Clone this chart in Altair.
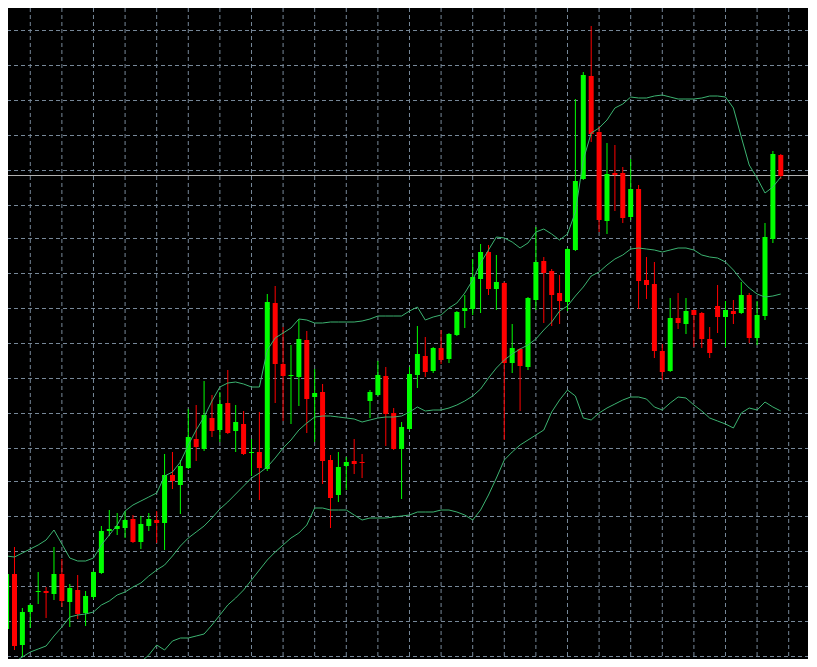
import altair as alt
import pandas as pd

# ---- candle data (price points) ----
candle_index = list(range(99))

open_ = [1371, 1426, 1355, 1388, 1408, 1409, 1406, 1426, 1398, 1410,
         1387, 1403, 1427, 1469, 1471, 1472, 1481, 1458, 1474, 1480,
         1477, 1525, 1515, 1532, 1561, 1551, 1582, 1570, 1597, 1569,
         1576, 1547, 1548, 1531, 1697, 1636, 1624, 1623, 1660, 1603,
         1608, 1540, 1505, 1534, 1539, 1538, 1599, 1605, 1624, 1587,
         1551, 1571, 1625, 1644, 1629, 1652, 1641, 1665, 1689, 1691,
         1721, 1748, 1711, 1717, 1637, 1651, 1633, 1700, 1739, 1729,
         1707, 1698, 1750, 1821, 1924, 1868, 1779, 1827, 1827, 1783,
         1811, 1720, 1716, 1649, 1629, 1682, 1676, 1690, 1687, 1661,
         1694, 1683, 1689, 1687, 1705, 1662, 1684, 1761, 1845]

high = [1431, 1453, 1392, 1396, 1428, 1413, 1453, 1441, 1416, 1425,
        1409, 1429, 1474, 1490, 1487, 1489, 1485, 1484, 1487, 1489,
        1546, 1548, 1540, 1591, 1595, 1619, 1605, 1608, 1630, 1595,
        1589, 1561, 1588, 1706, 1714, 1673, 1655, 1681, 1669, 1631,
        1616, 1545, 1548, 1543, 1561, 1546, 1610, 1639, 1633, 1592,
        1578, 1633, 1674, 1663, 1653, 1670, 1667, 1689, 1705, 1741,
        1756, 1755, 1745, 1718, 1676, 1652, 1703, 1773, 1743, 1731,
        1725, 1752, 1901, 1928, 1974, 1874, 1857, 1855, 1833, 1841,
        1815, 1743, 1738, 1656, 1702, 1707, 1702, 1690, 1688, 1673,
        1715, 1699, 1700, 1718, 1707, 1699, 1777, 1849, 1846]

low = [1367, 1350, 1343, 1372, 1396, 1382, 1400, 1393, 1373, 1381,
       1374, 1401, 1426, 1464, 1465, 1462, 1457, 1451, 1469, 1457,
       1450, 1511, 1486, 1531, 1539, 1549, 1563, 1558, 1566, 1548,
       1545, 1524, 1500, 1529, 1597, 1579, 1576, 1594, 1567, 1558,
       1516, 1472, 1498, 1510, 1526, 1522, 1582, 1604, 1554, 1550,
       1501, 1570, 1612, 1623, 1627, 1636, 1637, 1664, 1672, 1685,
       1687, 1705, 1690, 1560, 1627, 1589, 1630, 1690, 1677, 1674,
       1676, 1689, 1749, 1820, 1858, 1768, 1766, 1789, 1777, 1780,
       1691, 1701, 1642, 1620, 1628, 1671, 1666, 1653, 1652, 1642,
       1667, 1653, 1676, 1686, 1657, 1655, 1680, 1757, 1821]

close = [1426, 1354, 1388, 1395, 1409, 1407, 1426, 1399, 1412, 1386,
         1404, 1428, 1469, 1471, 1474, 1480, 1458, 1476, 1481, 1477,
         1525, 1519, 1534, 1563, 1553, 1585, 1569, 1596, 1567, 1578,
         1546, 1548, 1532, 1698, 1636, 1624, 1625, 1661, 1601, 1607,
         1539, 1502, 1533, 1538, 1536, 1537, 1608, 1625, 1586, 1551,
         1573, 1626, 1646, 1628, 1652, 1640, 1666, 1688, 1692, 1723,
         1748, 1711, 1718, 1637, 1652, 1634, 1702, 1738, 1727, 1705,
         1699, 1751, 1819, 1925, 1866, 1780, 1826, 1825, 1782, 1811,
         1719, 1715, 1649, 1628, 1682, 1677, 1689, 1685, 1661, 1647,
         1683, 1690, 1686, 1705, 1662, 1685, 1763, 1846, 1824]

# ---- Bollinger bands ----
upper_band = [1444, 1443, 1447, 1451, 1455, 1460, 1470, 1456, 1442, 1439,
              1439, 1442, 1455, 1465, 1475, 1489, 1495, 1499, 1503, 1507,
              1524, 1528, 1538, 1555, 1570, 1583, 1599, 1613, 1617, 1618,
              1616, 1613, 1613, 1650, 1662, 1667, 1672, 1681, 1680, 1677,
              1677, 1678, 1678, 1678, 1678, 1679, 1681, 1684, 1684, 1684,
              1684, 1689, 1693, 1680, 1683, 1685, 1692, 1697, 1707, 1720,
              1737, 1750, 1763, 1762, 1758, 1752, 1757, 1768, 1771, 1766,
              1760, 1766, 1788, 1840, 1867, 1872, 1880, 1892, 1896, 1903,
              1902, 1902, 1904, 1905, 1903, 1901, 1901, 1901, 1902, 1904,
              1904, 1903, 1892, 1863, 1835, 1822, 1807, 1813, 1823]

middle_band = [1333, 1338, 1343, 1348, 1351, 1354, 1364, 1373, 1383, 1385,
               1386, 1388, 1395, 1399, 1405, 1408, 1413, 1417, 1424, 1430,
               1435, 1444, 1454, 1462, 1468, 1474, 1482, 1491, 1498, 1506,
               1514, 1522, 1527, 1533, 1542, 1552, 1560, 1570, 1577, 1583,
               1584, 1584, 1583, 1582, 1581, 1578, 1580, 1582, 1583, 1583,
               1584, 1588, 1593, 1589, 1590, 1590, 1592, 1595, 1599, 1604,
               1611, 1622, 1632, 1640, 1646, 1651, 1655, 1661, 1670, 1678,
               1689, 1694, 1704, 1713, 1724, 1728, 1735, 1741, 1745, 1751,
               1752, 1751, 1750, 1748, 1750, 1752, 1752, 1750, 1745, 1743,
               1742, 1738, 1730, 1720, 1712, 1706, 1703, 1704, 1706]

lower_band = [None] * 16 + [
    1328, 1338, 1345, 1355,
    1350, 1359, 1362, 1362, 1364, 1366, 1375, 1385, 1395, 1402,
    1410, 1420, 1430, 1440, 1448, 1455, 1462, 1467, 1475, 1492,
    1492, 1490, 1490, 1490, 1485, 1480, 1482, 1482, 1482, 1483,
    1484, 1485, 1488, 1488, 1488, 1490, 1490, 1488, 1485, 1480,
    1490, 1505, 1522, 1540, 1548, 1555, 1560, 1565, 1570, 1588,
    1600, 1610, 1604, 1582, 1580, 1587, 1592, 1596, 1600, 1603,
    1603, 1601, 1593, 1590, 1597, 1603, 1602, 1595, 1589, 1582,
    1579, 1576, 1572, 1587, 1592, 1590, 1598, 1593, 1589]

# ---- grid / price line ----
grid_prices = [1969.5, 1934.5, 1899.5, 1864.5, 1829.5, 1794.5, 1761.5,
               1726.5, 1691.5, 1656.5, 1621.5, 1586.5, 1551.5, 1518.5,
               1483.5, 1448.5, 1413.5, 1378.5, 1343.5]
grid_candles = [3, 7, 11, 15, 19, 23, 27, 31, 35, 39, 43, 47, 51, 55, 59,
                63, 67, 71, 75, 79, 83, 87, 91, 95, 99]
bid_price = 1824.5

W, H = 801, 651
xs = alt.Scale(domain=[0.8125, 100.9375], nice=False, zero=False)
ys = alt.Scale(domain=[1341, 1992], nice=False, zero=False)

candles = pd.DataFrame({"i": candle_index, "open": open_, "high": high,
                        "low": low, "close": close})
candles["dir"] = ["up" if c > o else "down" for o, c in zip(open_, close)]

bands = pd.concat([
    pd.DataFrame({"i": candle_index, "v": upper_band, "band": "upper"}),
    pd.DataFrame({"i": candle_index, "v": middle_band, "band": "middle"}),
    pd.DataFrame({"i": candle_index, "v": lower_band, "band": "lower"}),
]).dropna()

col = alt.Color("dir:N", scale=alt.Scale(domain=["up", "down"],
                                         range=["#00ff00", "#ff0000"]),
                legend=None)

vgrid = alt.Chart(pd.DataFrame({"g": grid_candles})).mark_rule(
    color="#778899", strokeWidth=1, strokeDash=[4, 3]
).encode(x=alt.X("g:Q", scale=xs, axis=None))

hgrid = alt.Chart(pd.DataFrame({"p": grid_prices})).mark_rule(
    color="#778899", strokeWidth=1, strokeDash=[4, 3]
).encode(y=alt.Y("p:Q", scale=ys, axis=None))

bid = alt.Chart(pd.DataFrame({"p": [bid_price]})).mark_rule(
    color="#b0b0b0", strokeWidth=1
).encode(y=alt.Y("p:Q", scale=ys, axis=None))

wicks = alt.Chart(candles).mark_rule(strokeWidth=1, clip=True).encode(
    x=alt.X("i:Q", scale=xs, axis=None),
    y=alt.Y("low:Q", scale=ys, axis=None),
    y2="high:Q",
    color=col,
)

bodies = alt.Chart(candles).mark_bar(size=5, clip=True).encode(
    x=alt.X("i:Q", scale=xs, axis=None),
    y=alt.Y("open:Q", scale=ys, axis=None),
    y2="close:Q",
    color=col,
)

band_lines = alt.Chart(bands).mark_line(
    color="#3cb371", strokeWidth=1, clip=True
).encode(
    x=alt.X("i:Q", scale=xs, axis=None),
    y=alt.Y("v:Q", scale=ys, axis=None),
    detail="band:N",
)

axis_line = alt.Chart(pd.DataFrame({"a": [0]})).mark_rule(
    color="white", strokeWidth=1
).encode(x=alt.value(800.5), y=alt.value(0), y2=alt.value(H))

chart = alt.layer(
    vgrid, hgrid, bid, wicks, bodies, band_lines, axis_line
).properties(
    width=W, height=H, padding=0,
    autosize=alt.AutoSizeParams(type="none"),
    background="black",
).configure_view(fill="black", strokeWidth=0)

chart.save("out.html", embed_options={"renderer": "svg", "actions": False})
